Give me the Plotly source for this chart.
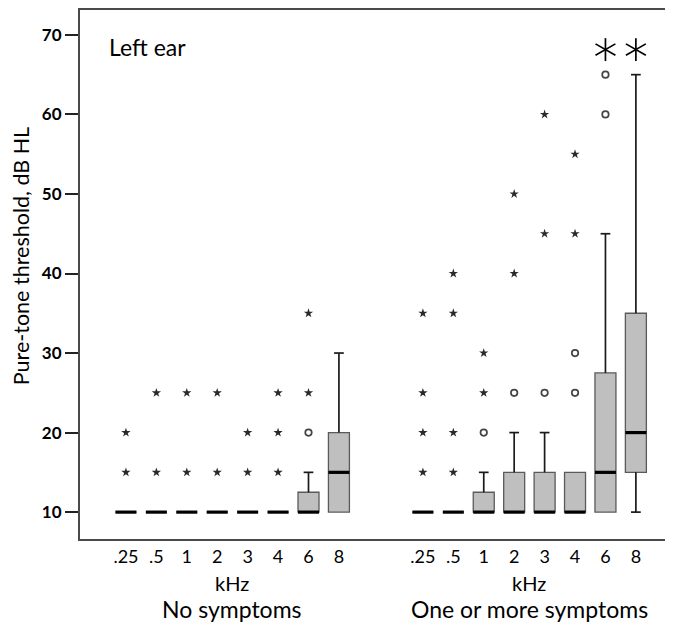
import math
import plotly.graph_objects as go

# ---------------- data ----------------
freq_labels = [".25", ".5", "1", "2", "3", "4", "6", "8"]
group_names = ["No symptoms", "One or more symptoms"]

# No symptoms
none_q1 = [10, 10, 10, 10, 10, 10, 10, 10]
none_med = [10, 10, 10, 10, 10, 10, 10, 15]
none_q3 = [10, 10, 10, 10, 10, 10, 12.5, 20]
none_wlo = [10, 10, 10, 10, 10, 10, 10, 10]
none_whi = [10, 10, 10, 10, 10, 10, 15, 30]
none_out = [[], [], [], [], [], [], [20], []]
none_ext = [[15, 20], [15, 25], [15, 25], [15, 25], [15, 20], [15, 20, 25], [25, 35], []]
none_sig = [False] * 8

# One or more symptoms
sym_q1 = [10, 10, 10, 10, 10, 10, 10, 15]
sym_med = [10, 10, 10, 10, 10, 10, 15, 20]
sym_q3 = [10, 10, 12.5, 15, 15, 15, 27.5, 35]
sym_wlo = [10, 10, 10, 10, 10, 10, 10, 10]
sym_whi = [10, 10, 15, 20, 20, 15, 45, 65]
sym_out = [[], [], [20], [25], [25], [25, 30], [60, 65], []]
sym_ext = [[15, 20, 25, 35], [15, 20, 35, 40], [25, 30], [40, 50], [45, 60], [45, 55], [], []]
sym_sig = [False, False, False, False, False, False, True, True]

# ---------------- layout constants ----------------
GROUP_OFFSET = 9.76
BOX_W = 0.69
CAP_HW = 0.16
SIG_Y = 68.15
FONT = "Lato"
X_RANGE = [-1.51, 17.98]
Y_RANGE = [6.62, 73.13]
PLOT_W_PX = 593
PLOT_H_PX = 531
# asterisk arm radius in pixels -> data units
AST_R = 11.5
ax_units = AST_R * (X_RANGE[1] - X_RANGE[0]) / PLOT_W_PX
ay_units = AST_R * (Y_RANGE[1] - Y_RANGE[0]) / PLOT_H_PX

pos_none = [i for i in range(len(freq_labels))]
pos_sym = [i + GROUP_OFFSET for i in range(len(freq_labels))]

groups = [
    (pos_none, none_q1, none_med, none_q3, none_wlo, none_whi, none_out, none_ext, none_sig),
    (pos_sym, sym_q1, sym_med, sym_q3, sym_wlo, sym_whi, sym_out, sym_ext, sym_sig),
]

fig = go.Figure()

bx, bbase, bh = [], [], []
mx, my = [], []
wx, wy = [], []
ox, oy = [], []
ex, ey = [], []
sx, sy = [], []
for pos, q1, med, q3, wlo, whi, outs, exts, sig in groups:
    for i, p in enumerate(pos):
        bx.append(p)
        bbase.append(q1[i])
        bh.append(q3[i] - q1[i])
        mx += [p - BOX_W / 2, p + BOX_W / 2, None]
        my += [med[i], med[i], None]
        if whi[i] > q3[i]:
            wx += [p, p, None, p - CAP_HW, p + CAP_HW, None]
            wy += [q3[i], whi[i], None, whi[i], whi[i], None]
        if wlo[i] < q1[i]:
            wx += [p, p, None, p - CAP_HW, p + CAP_HW, None]
            wy += [q1[i], wlo[i], None, wlo[i], wlo[i], None]
        for v in outs[i]:
            ox.append(p)
            oy.append(v)
        for v in exts[i]:
            ex.append(p)
            ey.append(v)
        if sig[i]:
            for ang in (90, 30, 150):
                a = math.radians(ang)
                dx, dy = ax_units * math.cos(a), ay_units * math.sin(a)
                sx += [p - dx, p + dx, None]
                sy += [SIG_Y - dy, SIG_Y + dy, None]

fig.add_trace(go.Bar(
    x=bx, y=bh, base=bbase, width=BOX_W,
    marker=dict(color="#bfbfbf", line=dict(color="#5a5a5a", width=1.3)),
    hoverinfo="skip", showlegend=False,
))
fig.add_trace(go.Scatter(
    x=wx, y=wy, mode="lines", line=dict(color="#1a1a1a", width=1.7),
    hoverinfo="skip", showlegend=False,
))
fig.add_trace(go.Scatter(
    x=mx, y=my, mode="lines", line=dict(color="black", width=3.2),
    hoverinfo="skip", showlegend=False,
))
fig.add_trace(go.Scatter(
    x=ex, y=ey, mode="markers",
    marker=dict(symbol="star", size=7, color="#2a2a2a", line=dict(width=0)),
    showlegend=False,
))
fig.add_trace(go.Scatter(
    x=ox, y=oy, mode="markers",
    marker=dict(symbol="circle-open", size=6.5, color="#444444", line=dict(width=1.7)),
    showlegend=False,
))
fig.add_trace(go.Scatter(
    x=sx, y=sy, mode="lines", line=dict(color="black", width=1.7),
    showlegend=False, hoverinfo="skip",
))

tickvals = pos_none + pos_sym
ticktext = freq_labels + freq_labels

fig.update_layout(
    width=665, height=617,
    margin=dict(l=72, r=0, t=0, b=86),
    plot_bgcolor="white", paper_bgcolor="white",
    font=dict(family=FONT, color="black"),
    barmode="overlay",
    showlegend=False,
    xaxis=dict(
        range=X_RANGE,
        tickvals=tickvals, ticktext=ticktext,
        ticks="", showgrid=False, zeroline=False,
        showline=True, mirror=True, linecolor="#4a4a4a", linewidth=2,
        tickfont=dict(family=FONT, size=18, color="black"),
        ticklabelstandoff=0,
    ),
    yaxis=dict(
        range=Y_RANGE,
        tickvals=[10, 20, 30, 40, 50, 60, 70],
        ticks="outside", ticklen=13, tickwidth=1.6, tickcolor="#222",
        showgrid=False, zeroline=False,
        showline=True, linecolor="#4a4a4a", linewidth=2,
        tickfont=dict(family=FONT, size=17, color="black", weight="bold"),
    ),
)

ann_font = dict(family=FONT, color="black")
annotations = [
    dict(text="Left ear", x=0.0455, y=0.930, xref="paper", yref="paper",
         xanchor="left", yanchor="middle", showarrow=False, font=dict(size=23, **ann_font)),
    dict(text="Pure-tone threshold, dB HL", x=-0.099, y=0.535, xref="paper", yref="paper",
         xanchor="center", yanchor="middle", textangle=-90, showarrow=False,
         font=dict(size=21.5, **ann_font)),
]
for pos, name in [(pos_none, group_names[0]), (pos_sym, group_names[1])]:
    c = (pos[0] + pos[-1]) / 2
    annotations.append(dict(text="kHz", x=c, y=-0.083, xref="x", yref="paper",
                            xanchor="center", yanchor="middle", showarrow=False,
                            font=dict(size=20, **ann_font)))
    annotations.append(dict(text=name, x=c, y=-0.132, xref="x", yref="paper",
                            xanchor="center", yanchor="middle", showarrow=False,
                            font=dict(size=23, **ann_font)))
fig.update_layout(annotations=annotations)

fig.write_html("out.html")
